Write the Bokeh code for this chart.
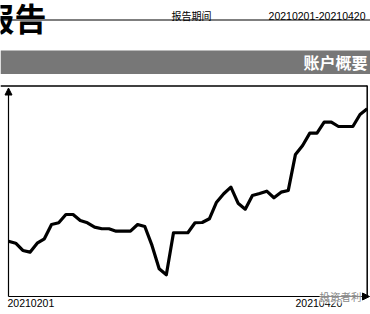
from bokeh.plotting import figure
from bokeh.models import Range1d, Arrow, NormalHead, Label
from bokeh.core.properties import value
from bokeh.embed import file_html
from bokeh.resources import INLINE

# ---- data -----------------------------------------------------------------
# account net value for each trading day of the report period
trade_day = list(range(51))
net_value = [
    1.0000, 0.9970, 0.9861, 0.9835, 0.9970, 1.0036, 1.0250, 1.0276, 1.0400, 1.0400,
    1.0310, 1.0276, 1.0210, 1.0186, 1.0186, 1.0150, 1.0150, 1.0150, 1.0250, 1.0220,
    0.9936, 0.9586, 0.9496, 1.0126, 1.0126, 1.0126, 1.0276, 1.0280, 1.0336, 1.0585,
    1.0711, 1.0810, 1.0570, 1.0480, 1.0686, 1.0716, 1.0750, 1.0651, 1.0735, 1.0761,
    1.1301, 1.1436, 1.1620, 1.1620, 1.1785, 1.1785, 1.1720, 1.1720, 1.1720, 1.1900,
    1.1986,
]
start_date = "20210201"
end_date = "20210420"
period_name = "报告期间"
period_text = start_date + "-" + end_date
section_name = "账户概要"
report_name = "报告"

# value span shown between the x axis and the top border of the chart box
nav_low, nav_high = 0.917, 1.2335

# ---- page geometry (pixels) ----------------------------------------------
W, H = 370, 314
BOX_L, BOX_R = 8, 366.7      # y axis / right border
BOX_T, BOX_B = 85, 296       # top border / x axis

CJK = value("Noto Sans CJK SC")
LATIN = value("Liberation Sans")

p = figure(width=W, height=H, x_range=Range1d(0, W), y_range=Range1d(H, 0),
           output_backend="svg", toolbar_location=None,
           x_axis_location=None, y_axis_location=None, min_border=0)
p.grid.visible = False
p.outline_line_color = None
p.background_fill_color = "white"
p.border_fill_color = "white"

# ranges for the series, laid over the chart box
day_px = (BOX_R - BOX_L) / (len(trade_day) - 1)
nav_px = (nav_high - nav_low) / (BOX_B - BOX_T)
p.extra_x_ranges = {"day": Range1d(trade_day[0] - BOX_L / day_px,
                                   trade_day[0] + (W - BOX_L) / day_px)}
p.extra_y_ranges = {"nav": Range1d(nav_low - (H - BOX_B) * nav_px,
                                   nav_high + BOX_T * nav_px)}

# ---- header ---------------------------------------------------------------
p.text(x=[46], y=[16.5], text=[report_name], text_font=CJK, text_font_style="bold",
       text_font_size="32px", text_align="right", text_baseline="alphabetic",
       text_color="black")
p.text(x=[171], y=[14.5], text=[period_name], text_font=CJK, text_font_size="10px",
       text_align="left", text_baseline="middle", text_color="black")
p.text(x=[365], y=[15], text=[period_text], text_font=LATIN, text_font_size="10.5px",
       text_align="right", text_baseline="middle", text_color="black")
p.segment(x0=[0], y0=[19.5], x1=[W], y1=[19.5], line_color="black", line_width=1.2)

# section bar
p.quad(left=[0], right=[W], top=[50], bottom=[73.5], fill_color="#777777",
       line_color=None)
p.text(x=[367], y=[61.5], text=[section_name], text_font=CJK, text_font_style="bold",
       text_font_size="16px", text_align="right", text_baseline="middle",
       text_color="white")

# ---- chart box --------------------------------------------------------------
p.segment(x0=[0], y0=[BOX_T + 0.5], x1=[BOX_R], y1=[BOX_T + 0.5],
          line_color="black", line_width=1.5)
p.segment(x0=[BOX_R], y0=[BOX_T], x1=[BOX_R], y1=[BOX_B],
          line_color="black", line_width=1.5)

p.line(trade_day, net_value, x_range_name="day", y_range_name="nav",
       line_color="black", line_width=3.2, line_join="round")

head = dict(size=7, fill_color="black", line_color="black", line_width=1)
p.add_layout(Arrow(x_start=BOX_L, y_start=BOX_B, x_end=BOX_L, y_end=BOX_T + 2.5,
                   line_color="black", line_width=1.2, end=NormalHead(**head)))
p.add_layout(Arrow(x_start=BOX_L, y_start=BOX_B, x_end=W - 1, y_end=BOX_B,
                   line_color="black", line_width=1.2, end=NormalHead(**head)))

p.text(x=[7], y=[298], text=[start_date], text_font=LATIN, text_font_size="10.5px",
       text_align="left", text_baseline="top", text_color="black")
p.text(x=[295], y=[298], text=[end_date], text_font=LATIN, text_font_size="10.5px",
       text_align="left", text_baseline="top", text_color="black")

p.add_layout(Label(x=319, y=295.5, text="投资者利", text_font="Noto Sans CJK SC",
                   text_font_size="10.5px", text_color="#8a8a8a",
                   text_baseline="middle", background_fill_color="white",
                   background_fill_alpha=0.55))

open("out.html", "w").write(file_html(p, INLINE))
